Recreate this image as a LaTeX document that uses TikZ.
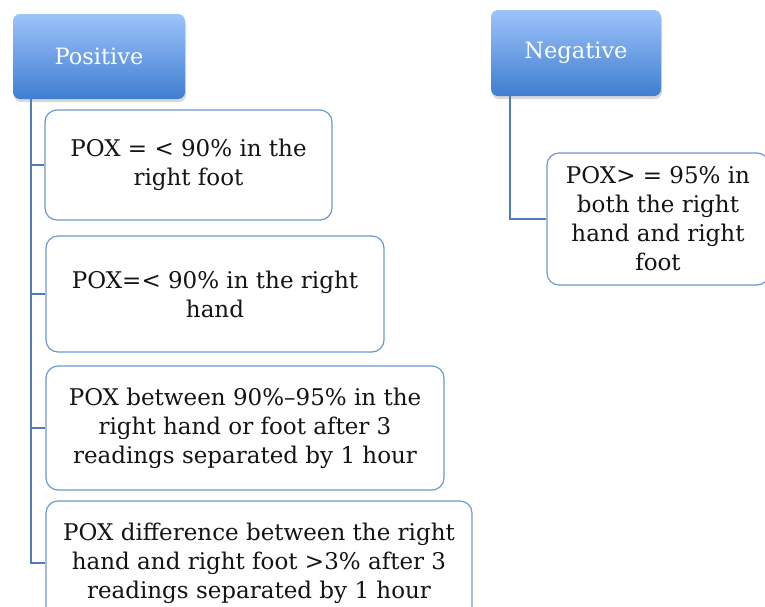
\documentclass[tikz,border=0pt]{standalone}
\usepackage{fontspec}
\setmainfont{DejaVu Serif}
\usetikzlibrary{shadows}
\definecolor{edgec}{HTML}{6C97CF}
\definecolor{linec}{HTML}{4F7DB8}
\definecolor{topc}{HTML}{9DC3FB}
\definecolor{botc}{HTML}{3F7ED0}
\begin{document}
\begin{tikzpicture}[x=1pt,y=-1pt,
  head/.style={rounded corners=7pt, top color=topc, bottom color=botc, draw=none,
    text=white, font=\fontsize{22.5}{26}\selectfont,
    drop shadow={opacity=0.3, shadow xshift=1pt, shadow yshift=-3pt}},
  item/.style={draw=edgec, line width=1.2pt, rounded corners=12pt, fill=white,
    align=center, font=\fontsize{23}{29}\selectfont, text=black!92, inner sep=0pt},
  conn/.style={draw=linec, line width=1.3pt}]
\useasboundingbox (0,0) rectangle (765,606);
\clip (0,0) rectangle (765,606);
\node[head, minimum width=172pt, minimum height=85pt] (pos) at (99,56.5) {Positive};
\node[head, minimum width=170pt, minimum height=86pt] (neg) at (576,53) {Negative};
\coordinate (pt) at ([xshift=-68pt]pos.south);
\coordinate (nt) at ([xshift=-66pt]neg.south);
\node[item, minimum width=287pt, minimum height=110pt] (b1) at (188.5,165) {POX = < 90\% in the\\right foot};
\node[item, minimum width=338pt, minimum height=116pt] (b2) at (215,294) {POX=< 90\% in the right\\hand};
\node[item, minimum width=398pt, minimum height=124pt] (b3) at (245,428) {POX between 90\%–95\% in the\\right hand or foot after 3\\readings separated by 1 hour};
\node[item, minimum width=426pt, minimum height=124pt] (b4) at (259,563) {POX difference between the right\\hand and right foot >3\% after 3\\readings separated by 1 hour};
\node[item, minimum width=222pt, minimum height=132pt] (b5) at (658,219) {POX> = 95\% in\\both the right\\hand and right\\foot};
\draw[conn] (pt) |- (b4.west);
\draw[conn] (pt |- b1.west) -- (b1.west);
\draw[conn] (pt |- b2.west) -- (b2.west);
\draw[conn] (pt |- b3.west) -- (b3.west);
\draw[conn] (nt) |- (b5.west);
\end{tikzpicture}
\end{document}
